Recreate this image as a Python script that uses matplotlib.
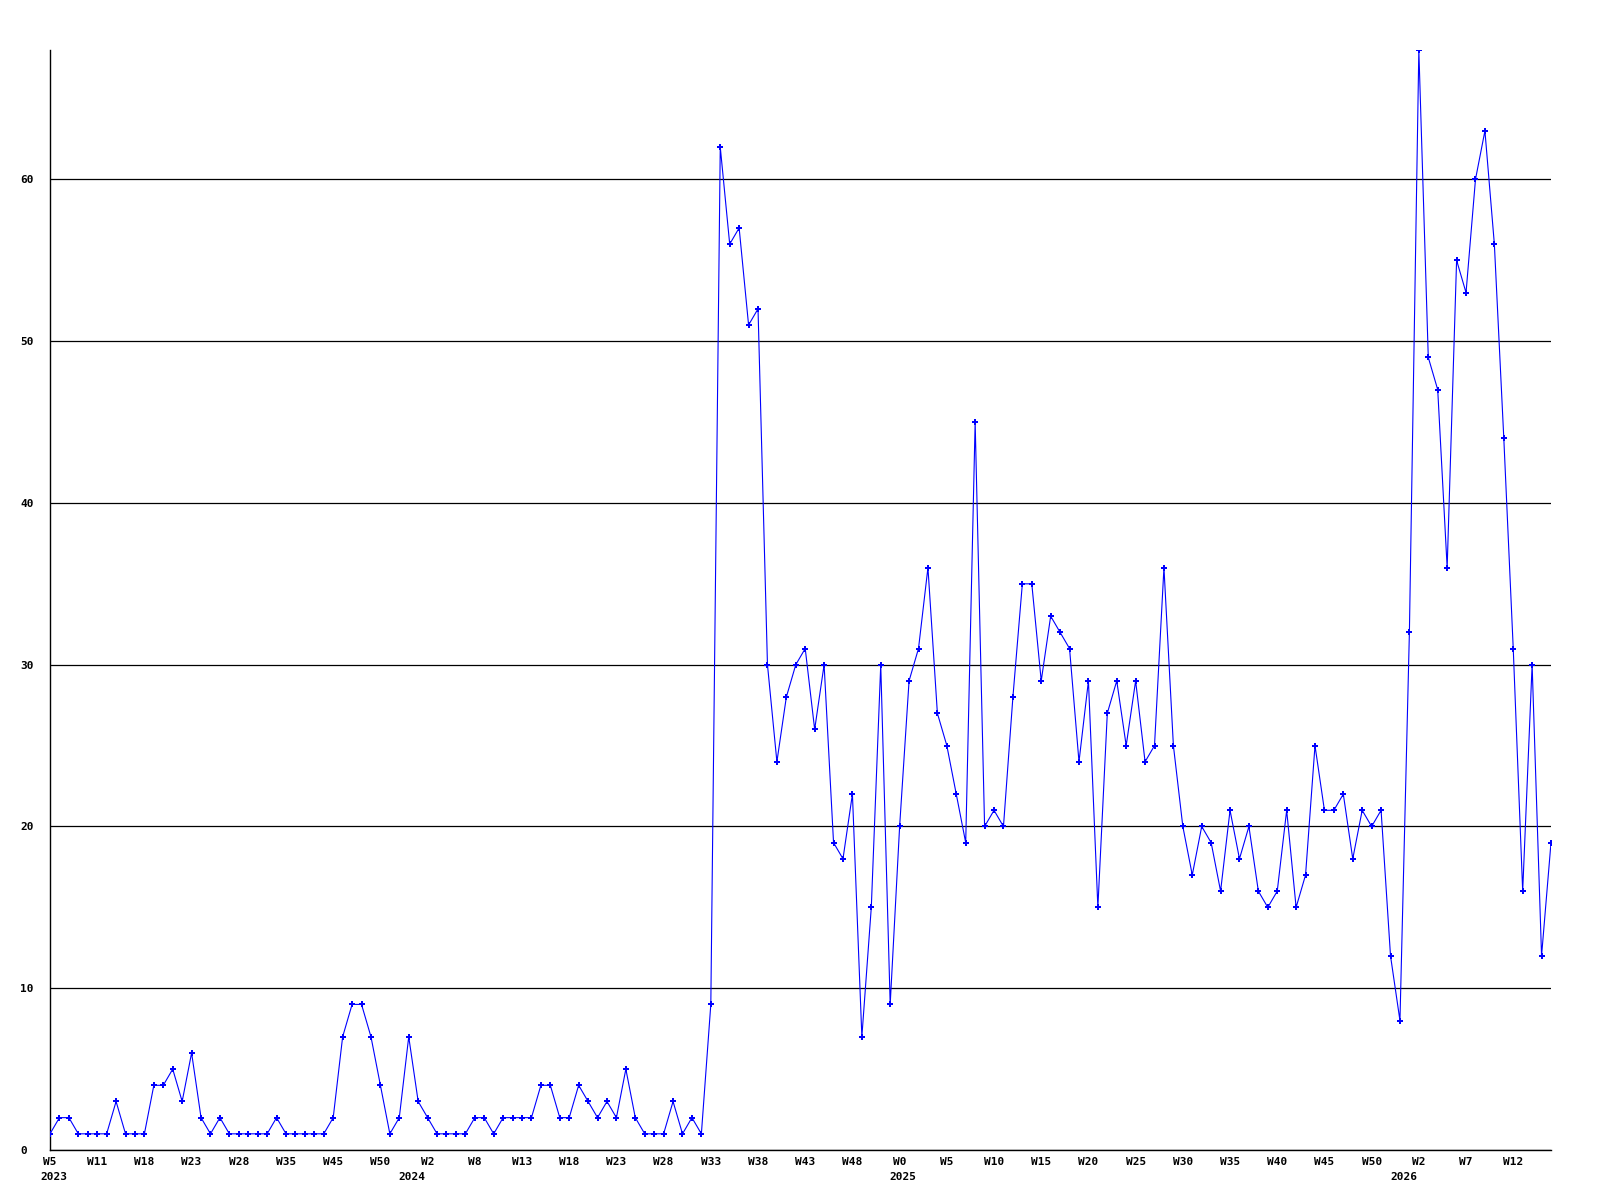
import matplotlib
matplotlib.use("Agg")
import matplotlib.pyplot as plt
import matplotlib.transforms as mtransforms
import numpy as np

# ---- data ----
values = [
    1, 2, 2, 1, 1, 1, 1, 3, 1, 1,
    1, 4, 4, 5, 3, 6, 2, 1, 2, 1,
    1, 1, 1, 1, 2, 1, 1, 1, 1, 1,
    2, 7, 9, 9, 7, 4, 1, 2, 7, 3,
    2, 1, 1, 1, 1, 2, 2, 1, 2, 2,
    2, 2, 4, 4, 2, 2, 4, 3, 2, 3,
    2, 5, 2, 1, 1, 1, 3, 1, 2, 1,
    9, 62, 56, 57, 51, 52, 30, 24, 28, 30,
    31, 26, 30, 19, 18, 22, 7, 15, 30, 9,
    20, 29, 31, 36, 27, 25, 22, 19, 45, 20,
    21, 20, 28, 35, 35, 29, 33, 32, 31, 24,
    29, 15, 27, 29, 25, 29, 24, 25, 36, 25,
    20, 17, 20, 19, 16, 21, 18, 20, 16, 15,
    16, 21, 15, 17, 25, 21, 21, 22, 18, 21,
    20, 21, 12, 8, 32, 68, 49, 47, 36, 55,
    53, 60, 63, 56, 44, 31, 16, 30, 12, 19,
]
week_labels = ["W5", "W11", "W18", "W23", "W28", "W35", "W45", "W50",
               "W2", "W8", "W13", "W18", "W23", "W28", "W33", "W38",
               "W43", "W48", "W0", "W5", "W10", "W15", "W20", "W25",
               "W30", "W35", "W40", "W45", "W50", "W2", "W7", "W12"]
year_labels = ["2023", "2024", "2025", "2026"]
y_ticks = [0, 10, 20, 30, 40, 50, 60]

# ---- layout ----
label_step = 5
year_positions = [0.4, 38.3, 90.3, 143.4]

font = dict(family="DejaVu Sans Mono", weight="bold", size=8)

fig = plt.figure(figsize=(16, 12), dpi=100)
ax = fig.add_axes([50 / 1600, 50 / 1200, 1501 / 1600, 1100 / 1200])

x = np.arange(len(values))
ax.plot(x, values, color="#0000ff", linewidth=0.8, marker="P",
        markersize=4, markeredgewidth=0, markerfacecolor="#0000ff", zorder=3)

ax.set_xlim(0, len(values) - 1)
ax.set_ylim(0, max(values))

for s in ["top", "right"]:
    ax.spines[s].set_visible(False)
for s in ["left", "bottom"]:
    ax.spines[s].set_linewidth(1.0)
    ax.spines[s].set_color("black")

ax.set_yticks(y_ticks)
ax.set_yticklabels([str(v) for v in y_ticks], fontdict=font)
for lab in ax.get_yticklabels():
    lab.set_horizontalalignment("left")
ax.tick_params(axis="y", length=0, pad=21.6)

tick_pos = [i * label_step for i in range(len(week_labels))]
ax.set_xticks(tick_pos)
ax.set_xticklabels(week_labels, fontdict=font)
ax.tick_params(axis="x", length=0, pad=5)

ax.yaxis.grid(True, color="black", linewidth=0.9)
ax.set_axisbelow(True)

trans = mtransforms.blended_transform_factory(ax.transData, ax.transAxes)
for xp, lab in zip(year_positions, year_labels):
    ax.text(xp, -27 / 1100, lab, transform=trans, ha="center", va="center",
            clip_on=False, **font)

fig.savefig("out.png", dpi=100, facecolor="white")
